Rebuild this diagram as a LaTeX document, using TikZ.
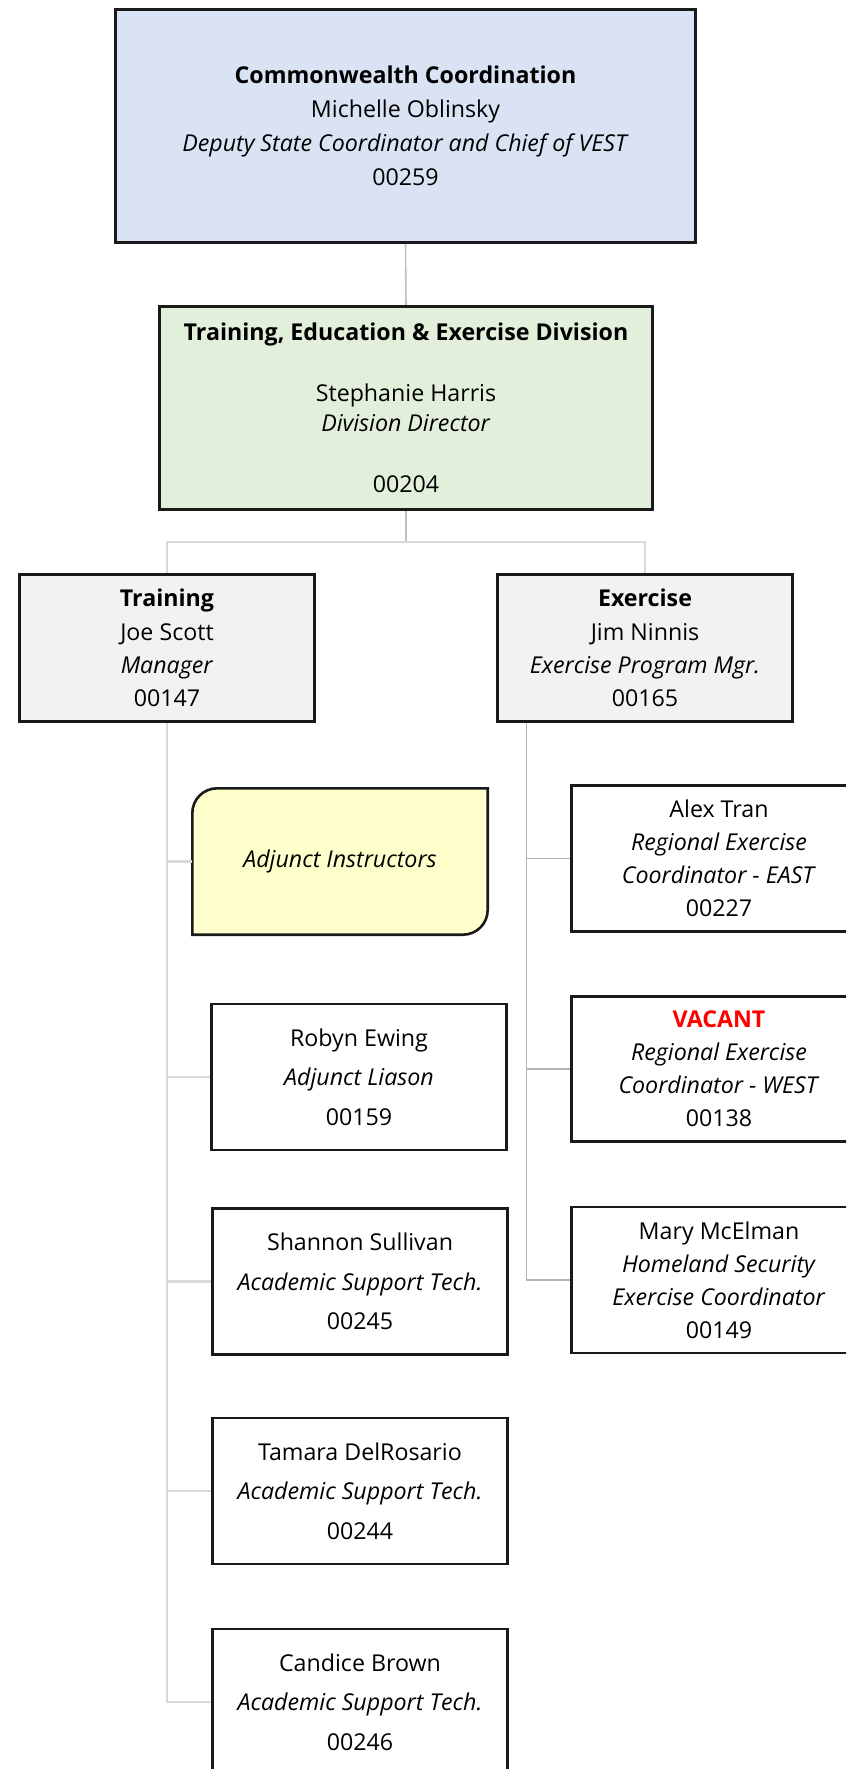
\documentclass[tikz,border=0pt]{standalone}
\usepackage{fontspec}
\setmainfont{Open Sans}
\usetikzlibrary{calc,backgrounds}
\definecolor{boxline}{HTML}{1A1A1A}
\definecolor{topfill}{HTML}{DAE3F3}
\definecolor{divfill}{HTML}{E2EFDA}
\definecolor{mgrfill}{HTML}{F2F2F2}
\definecolor{adjfill}{HTML}{FFFFCC}
\definecolor{linegray}{HTML}{C0C0C0}
\definecolor{lightline}{HTML}{D9D9D9}
\definecolor{midline}{HTML}{B4B4B4}
\definecolor{vacred}{HTML}{FF0000}
\newcommand\orgfs[1]{\fontsize{23.2}{#1}\selectfont}
\tikzset{
  orgbox/.style={draw=boxline, line width=2.6pt, align=center, inner sep=0pt,
                 minimum width=295pt, minimum height=146pt},
  adjshape/.style={draw=boxline, fill=adjfill, line width=2.6pt},
  toplink/.style={draw=linegray, line width=1.6pt},
  barlink/.style={draw=lightline, line width=1.5pt},
  tlink/.style={draw=lightline, line width=2.6pt},
  elink/.style={draw=midline, line width=1.3pt},
}
\begin{document}
\begin{tikzpicture}[x=1pt,y=-1pt]
\useasboundingbox (0,0) rectangle (846,1769);
\clip (0,0) rectangle (846,1769);

% top levels
\node[orgbox, fill=topfill, minimum width=580pt, minimum height=233pt, font=\orgfs{33.7}] (top) at (405.5,125.8)
  {\textbf{Commonwealth Coordination}\\Michelle Oblinsky\\\textit{Deputy State Coordinator and Chief of VEST}\\00259};
\node[orgbox, fill=divfill, minimum width=493pt, minimum height=203pt, font=\orgfs{30.5}] (div) at (406,408)
  {\textbf{Training, Education \& Exercise Division}\\[30.5pt]Stephanie Harris\\\textit{Division Director}\\[30.5pt]00204};
\node[orgbox, fill=mgrfill, minimum height=147pt, font=\orgfs{33.3}] (train) at (167,648)
  {\textbf{Training}\\Joe Scott\\\textit{Manager}\\00147};
\node[orgbox, fill=mgrfill, minimum height=147pt, font=\orgfs{33.3}] (exer) at (645,648)
  {\textbf{Exercise}\\Jim Ninnis\\\textit{Exercise Program Mgr.}\\00165};

% training staff
\node[inner sep=0pt, minimum width=295pt, minimum height=146pt, font=\orgfs{33}] (adj) at (340,861.5)
  {\textit{Adjunct Instructors}};
\node[orgbox, font=\orgfs{39.5}] (robyn) at (359,1077)
  {Robyn Ewing\\\textit{Adjunct Liason}\\00159};
\node[orgbox, font=\orgfs{39.5}] (shan) at (360,1281.5)
  {Shannon Sullivan\\\textit{Academic Support Tech.}\\00245};
\node[orgbox, font=\orgfs{39.5}] (tam) at (360,1491)
  {Tamara DelRosario\\\textit{Academic Support Tech.}\\00244};
\node[orgbox, font=\orgfs{39.5}] (cand) at (360,1702)
  {Candice Brown\\\textit{Academic Support Tech.}\\00246};

% exercise staff
\node[orgbox, font=\orgfs{33}] (alex) at (719,858.5)
  {Alex Tran\\\textit{Regional Exercise}\\\textit{Coordinator - EAST}\\00227};
\node[orgbox, minimum height=145pt, font=\orgfs{33}] (vac) at (719,1069)
  {\textcolor{vacred}{\textbf{VACANT}}\\\textit{Regional Exercise}\\\textit{Coordinator - WEST}\\00138};
\node[orgbox, font=\orgfs{33}] (mary) at (719,1280)
  {Mary McElman\\\textit{Homeland Security}\\\textit{Exercise Coordinator}\\00149};

\begin{scope}[on background layer]
  \path[adjshape]
    ($(adj.north west)+(0,25)$) .. controls ($(adj.north west)+(0,11)$) and ($(adj.north west)+(11,0)$) ..
    ($(adj.north west)+(25,0)$) -- (adj.north east) --
    ($(adj.south east)+(0,-25)$) .. controls ($(adj.south east)+(0,-11)$) and ($(adj.south east)+(-11,0)$) ..
    ($(adj.south east)+(-25,0)$) -- (adj.south west) -- cycle;

  % connectors
  \coordinate (bar) at (406,542);
  \path[toplink] (top.south) -- (div.north);
  \path[toplink] (div.south) -- (bar);
  \path[barlink] (bar) -| (train.north);
  \path[barlink] (bar) -| (exer.north);

  \path[tlink] (train.south) -- (train.south |- cand.west) -- (cand.west);
  \path[tlink] (train.south |- adj.west) -- (adj.west);
  \path[tlink] (train.south |- robyn.west) -- (robyn.west);
  \path[tlink] (train.south |- shan.west) -- (shan.west);
  \path[tlink] (train.south |- tam.west) -- (tam.west);

  \coordinate (ex) at ($(exer.south west)+(30,0)$);
  \path[elink] (ex) -- (ex |- mary.west) -- (mary.west);
  \path[elink] (ex |- alex.west) -- (alex.west);
  \path[elink] (ex |- vac.west) -- (vac.west);
\end{scope}
\end{tikzpicture}
\end{document}
